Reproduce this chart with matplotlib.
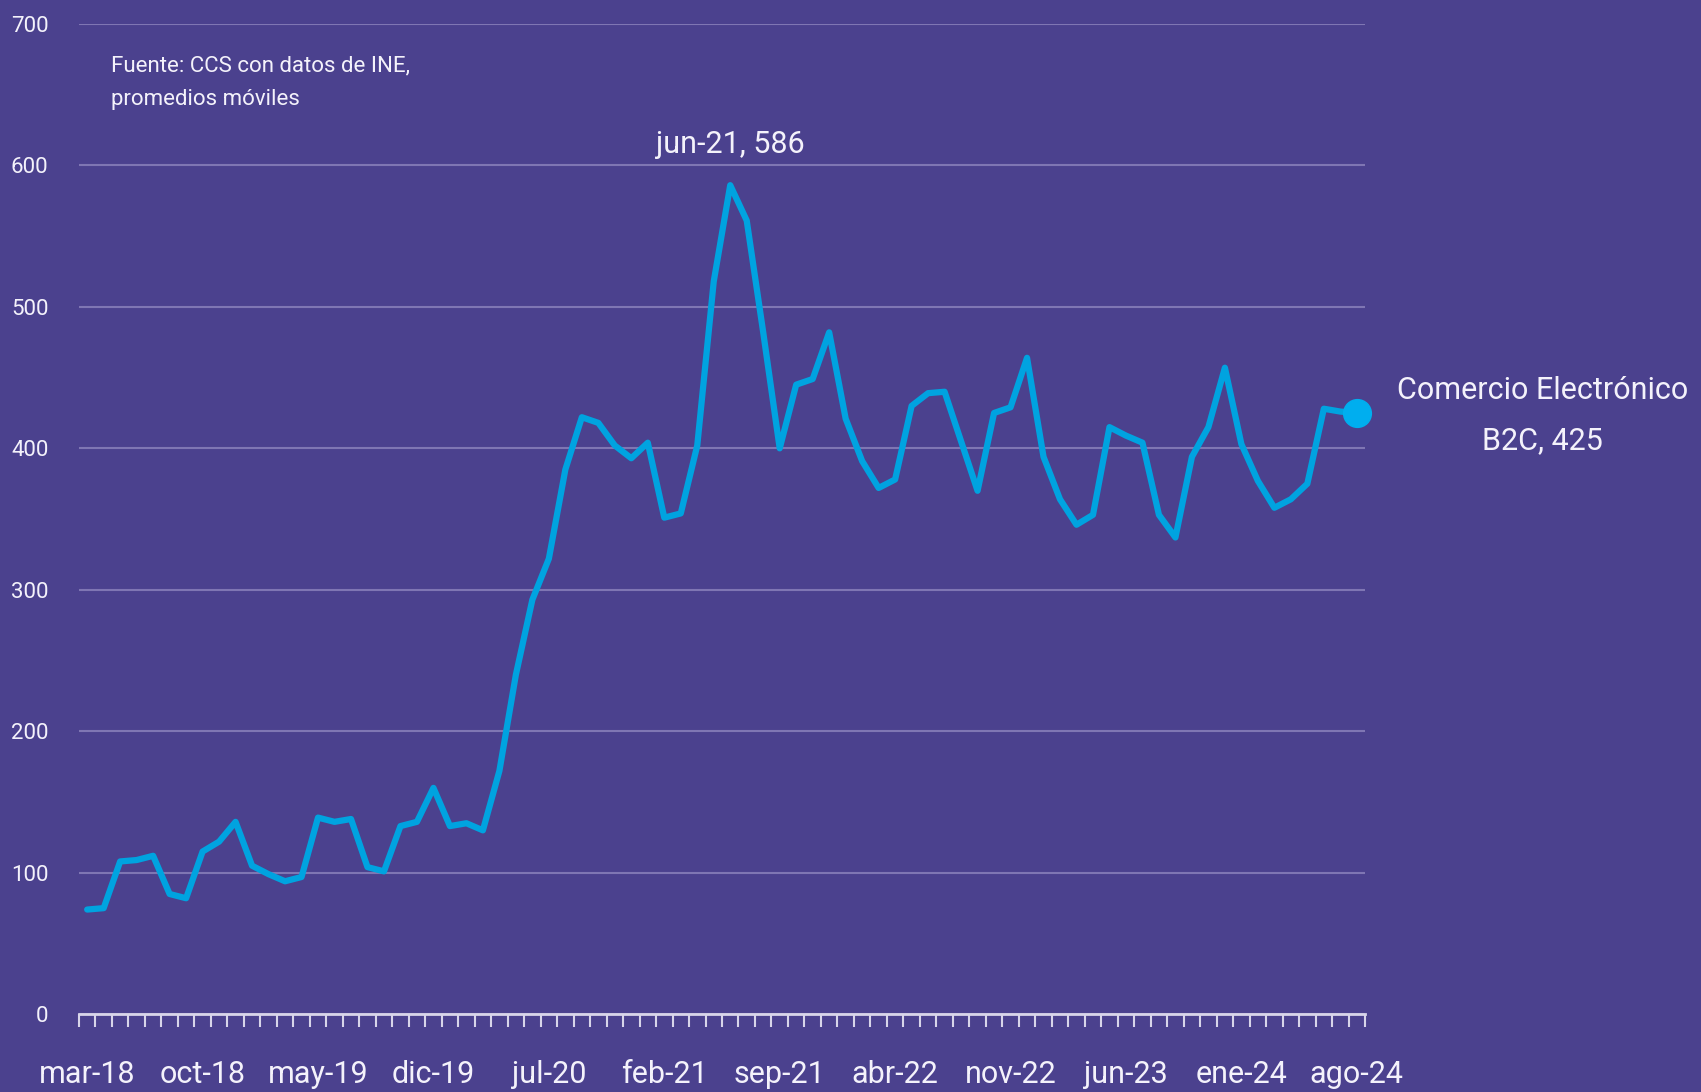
"""
Comercio electronico B2C - indice (promedios moviles)
"""

import numpy as np
import matplotlib
matplotlib.use("Agg")
import matplotlib.pyplot as plt

# monthly series, mar-18 .. ago-24
months_es = ['ene', 'feb', 'mar', 'abr', 'may', 'jun',
             'jul', 'ago', 'sep', 'oct', 'nov', 'dic']
start_year, start_month = 2018, 3

values = [74, 75, 108, 109, 112, 85, 82, 115, 122, 136,
          105, 99, 94, 97, 139, 136, 138, 104, 101, 133,
          136, 160, 133, 135, 130, 172, 240, 293, 322, 385,
          422, 418, 402, 393, 404, 351, 354, 402, 518, 586,
          561, 482, 400, 445, 449, 482, 421, 391, 372, 378,
          430, 439, 440, 405, 370, 425, 429, 464, 394, 364,
          346, 353, 415, 409, 404, 353, 337, 394, 415, 457,
          403, 377, 358, 364, 375, 428, 426, 425]

label_step = 7
peak_label = 'jun-21, 586'
end_label = 'Comercio Electrónico\nB2C, 425'
source_text = 'Fuente: CCS con datos de INE,\npromedios móviles'

BG = '#4B418E'
LINE = '#00A3E0'
DOT = '#00AEEF'
TXT = '#F4F2FB'
GRID = '#7F76B3'

plt.rcParams['font.family'] = ['Roboto', 'DejaVu Sans']
plt.rcParams['font.weight'] = 'normal'

n = len(values)
x = np.arange(n)
labels = []
for i in range(n):
    m = (start_month - 1 + i) % 12
    y = start_year + (start_month - 1 + i) // 12
    labels.append(f'{months_es[m]}-{y % 100:02d}')

fig = plt.figure(figsize=(17.01, 10.92), dpi=100, facecolor=BG)
ax = fig.add_axes([0.0464, 0.0712, 0.7561, 0.9069], facecolor=BG)

ax.plot(x, values, color=LINE, linewidth=4.5, solid_joinstyle='round',
        solid_capstyle='round', zorder=3)
ax.plot(x[-1], values[-1], 'o', color=DOT, markersize=20, zorder=4,
        clip_on=False)

ax.set_xlim(-0.5, n - 0.5)
ax.set_ylim(0, 700)

# grid
ax.set_yticks(np.arange(0, 701, 100))
ax.yaxis.grid(True, color=GRID, linewidth=1.5)
ax.set_axisbelow(True)
ax.tick_params(axis='y', length=0, pad=22, labelsize=16, labelcolor=TXT)

# x ticks at category boundaries, labels at centres
ax.set_xticks(np.arange(-0.5, n, 1))
ax.set_xticklabels([])
ax.tick_params(axis='x', which='major', direction='out', length=9.5,
               width=1.5, color='#D8D5EA')
ax.set_xticks(x[::label_step], minor=True)
ax.set_xticklabels(labels[::label_step], minor=True)
ax.tick_params(axis='x', which='minor', length=0, pad=33, labelsize=22,
               labelcolor=TXT)

for s in ['top', 'right', 'left']:
    ax.spines[s].set_visible(False)
ax.spines['bottom'].set_color('#D8D5EA')
ax.spines['bottom'].set_linewidth(2)

# annotations
ipk = int(np.argmax(values))
ax.annotate(peak_label, (ipk, values[ipk]), xytext=(0, 29),
            textcoords='offset points', ha='center', va='center',
            fontsize=22, color=TXT)
ax.annotate(end_label, (x[-1], values[-1]), xytext=(134, -2),
            textcoords='offset points', ha='center', va='center',
            fontsize=22, color=TXT, linespacing=1.9, annotation_clip=False)
ax.text(0.025, 0.968, source_text, transform=ax.transAxes, ha='left',
        va='top', fontsize=16, color=TXT, linespacing=1.8)

fig.savefig('out.png', dpi=100, facecolor=BG)
